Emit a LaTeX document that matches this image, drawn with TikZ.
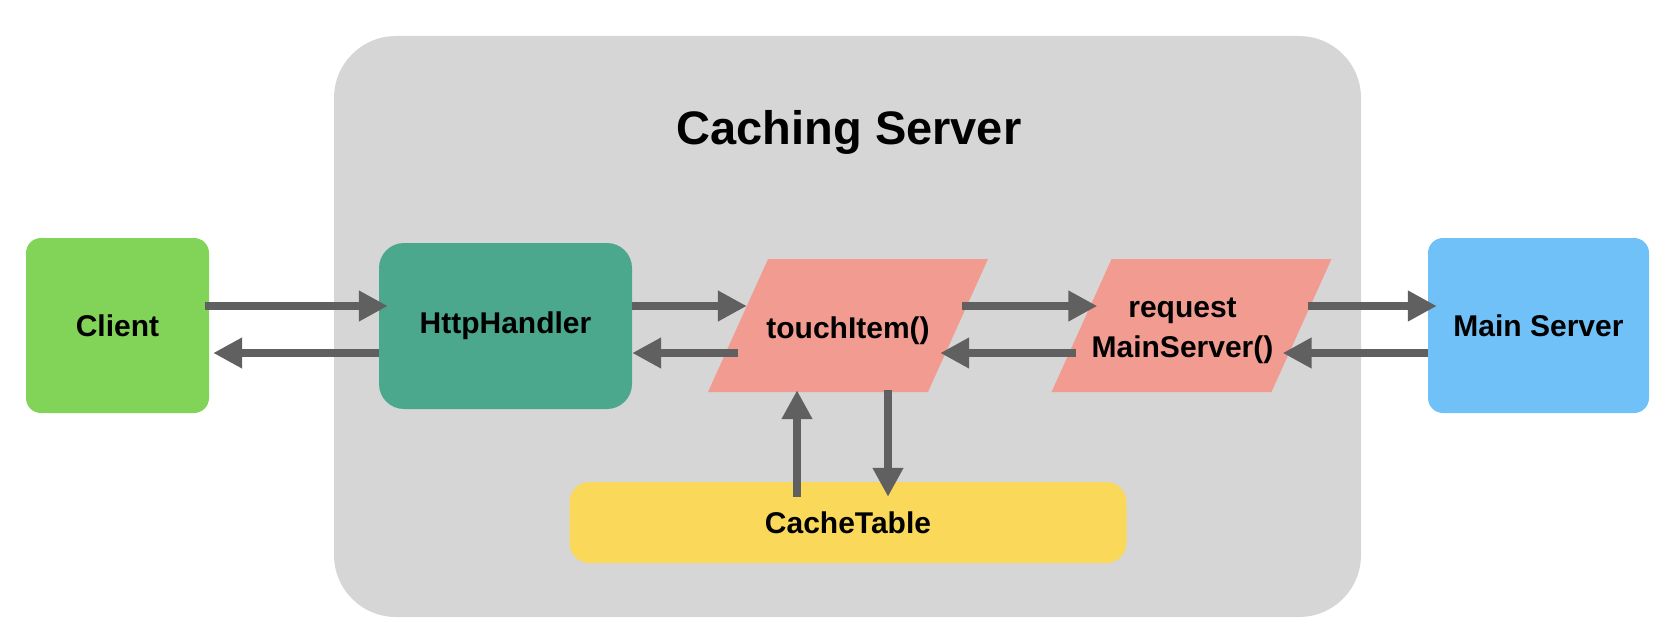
\documentclass[tikz,border=0pt]{standalone}
\usepackage{fontspec}
\setmainfont{Liberation Sans}
\usetikzlibrary{shapes.geometric, arrows.meta}
\definecolor{clientgreen}{HTML}{82D458}
\definecolor{handlerteal}{HTML}{4CA88D}
\definecolor{funcpink}{HTML}{F29B91}
\definecolor{serverblue}{HTML}{70C1F7}
\definecolor{tableyellow}{HTML}{F9D85A}
\definecolor{cachegray}{HTML}{D6D6D6}
\definecolor{flowgray}{HTML}{606060}
\tikzset{
    x=1pt, y=-1pt,
    every node/.style={font=\bfseries\fontsize{30}{40}\selectfont, align=center},
    block/.style={rectangle, rounded corners=15pt, inner sep=0pt},
    func/.style={trapezium, trapezium left angle=65.7, trapezium right angle=114.3,
        trapezium stretches body, minimum width=280pt,
        inner xsep=0pt, inner ysep=66.5pt, fill=funcpink},
    flow/.style={-{Triangle[length=29pt, width=29pt]}, line width=8pt, flowgray},
}
\begin{document}
\begin{tikzpicture}
    \useasboundingbox (0,0) rectangle (1678,642);
    \node[block, rounded corners=62pt, fill=cachegray, minimum width=1027pt,
        minimum height=581pt] (caching) at (847.5,326.5) {};
    \node[font=\bfseries\fontsize{47}{56}\selectfont] (title) at (849,132) {Caching Server};
    \node[block, fill=clientgreen, minimum width=183pt, minimum height=175pt]
        (client) at (117.5,325.5) {Client};
    \node[block, rounded corners=25pt, fill=handlerteal, minimum width=253pt,
        minimum height=166pt] (http) at (505.5,326) {HttpHandler};
    \node[func, label={[yshift=-5pt]center:{touchItem()}}] (touch) at (848,325.5) {};
    \node[func, label={[xshift=-9pt, yshift=-5pt]center:{request\\MainServer()}}] (request) at (1191.5,325.5) {};
    \node[block, fill=serverblue, minimum width=221pt, minimum height=175pt]
        (main) at (1538.5,325.5) {Main Server};
    \node[block, rounded corners=20pt, fill=tableyellow, minimum width=557pt,
        minimum height=81pt] (table) at (848,522.5) {CacheTable};
    % requests go right, answers come back
    \draw[flow] ([xshift=-4pt, yshift=19.5pt]client.east) -- ([xshift=9pt, yshift=20pt]http.west);
    \draw[flow] ([yshift=-27pt]http.west) -- ([xshift=4pt, yshift=-27.5pt]client.east);
    \draw[flow] ([yshift=20pt]http.east) -- ([xshift=9pt, yshift=19.5pt]touch.west);
    \draw[flow] ([yshift=-27.5pt]touch.west) -- ([yshift=-27pt]http.east);
    \draw[flow] ([xshift=4pt, yshift=19.5pt]touch.east) -- ([xshift=16pt, yshift=19.5pt]request.west);
    \draw[flow] ([xshift=-5pt, yshift=-27.5pt]request.west) -- ([xshift=-18pt, yshift=-27.5pt]touch.east);
    \draw[flow] ([xshift=6.5pt, yshift=19.5pt]request.east) -- ([xshift=9pt, yshift=19.5pt]main.west);
    \draw[flow] ([yshift=-27.5pt]main.west) -- ([xshift=-19pt, yshift=-27.5pt]request.east);
    \draw[flow] ([xshift=-51pt, yshift=-15pt]table.north) -- ([xshift=-51pt, yshift=2pt]table.north |- touch.south);
    \draw[flow] ([xshift=40pt, yshift=2pt]table.north |- touch.south) -- ([xshift=40pt, yshift=-15pt]table.north);
\end{tikzpicture}
\end{document}
